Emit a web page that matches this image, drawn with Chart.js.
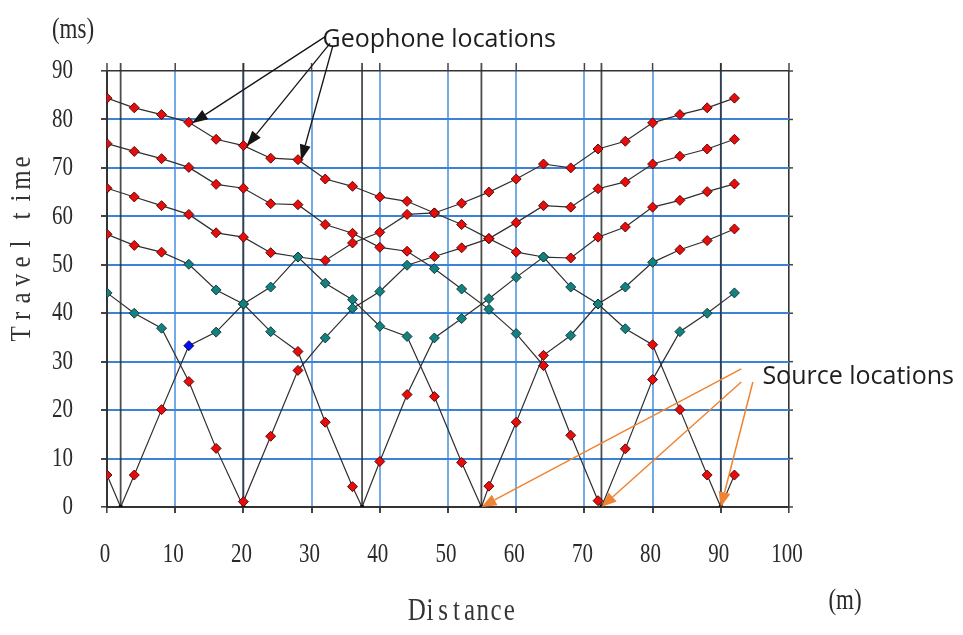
<!DOCTYPE html>
<html>
<head>
<meta charset="utf-8">
<script src="https://cdn.jsdelivr.net/npm/chart.js@4.4.0/dist/chart.umd.min.js"></script>
<style>
  html, body { margin: 0; padding: 0; background: #fff; }
  #wrap { width: 963px; height: 635px; position: relative; }
</style>
</head>
<body>
<div id="wrap"><canvas id="myChart"></canvas></div>
<script>
// geophone positions along the spread (m)
const geophoneX = [0, 4, 8, 12, 16, 20, 24, 28, 32, 36, 40, 44, 48, 52, 56, 60, 64, 68, 72, 76, 80, 84, 88, 92];
// shot positions (m)
const sourceX = [2, 20, 37.4, 54.9, 72.5, 90];

// first-break times (ms), one per geophone, for each shot
const shot1 = [6.6, 6.6, 20.1, 33.3, 36.1, 41.9, 45.4, 51.6, 50.9, 54.5, 56.7, 60.4, 60.7, 62.7, 65.0, 67.7, 70.8, 70.0, 73.9, 75.5, 79.3, 81.0, 82.4, 84.4];
const shot2 = [44.2, 40.0, 36.9, 25.9, 12.1, 1.1, 14.6, 28.2, 34.9, 41.0, 44.5, 49.9, 51.7, 53.5, 55.4, 58.7, 62.2, 61.9, 65.7, 67.1, 70.8, 72.4, 73.9, 75.9];
const shot3 = [56.3, 54.0, 52.6, 50.1, 44.8, 41.9, 36.2, 32.1, 17.5, 4.2, 9.4, 23.2, 34.9, 38.9, 43.0, 47.4, 51.6, 51.4, 55.7, 57.8, 61.9, 63.3, 65.1, 66.7];
const shot4 = [65.8, 64.0, 62.2, 60.4, 56.6, 55.7, 52.5, 51.6, 46.2, 42.8, 37.3, 35.2, 22.8, 9.2, 4.3, 17.5, 31.3, 35.4, 41.9, 45.4, 50.5, 53.1, 55.0, 57.4];
const shot5 = [75.0, 73.4, 71.9, 70.1, 66.6, 65.8, 62.6, 62.4, 58.3, 56.5, 53.6, 52.8, 49.2, 45.0, 40.8, 35.8, 29.2, 14.8, 1.3, 12.0, 26.3, 36.2, 40.0, 44.2];
const shot6 = [84.4, 82.4, 81.0, 79.4, 75.9, 74.6, 72.0, 71.7, 67.7, 66.2, 64.0, 63.1, 60.7, 58.3, 55.4, 52.6, 51.6, 45.4, 41.9, 36.8, 33.5, 20.1, 6.6, 6.6];
const shots = [shot1, shot2, shot3, shot4, shot5, shot6];

// axis ticks
const xTicks = [0, 10, 20, 30, 40, 50, 60, 70, 80, 90, 100];
const yTicks = [0, 10, 20, 30, 40, 50, 60, 70, 80, 90];

// picks in the mid-offset window are marked teal, one pick is flagged blue
const flagged = { shot: 0, x: 12 };
function pickKind(p, src, i) {
  if (p.source) return 'src';
  if (i === flagged.shot && p.x === flagged.x) return 'flag';
  const off = Math.abs(p.x - src);
  return (off > 10.3 && off < 27.5) ? 'mid' : 'near';
}
const fills = { src: '#111', flag: '#0010f0', mid: '#14807f', near: '#e80d0d' };
const edges = { src: '#111', flag: '#00004a', mid: '#0a3434', near: '#4a0000' };

const datasets = shots.map((times, i) => {
  const src = sourceX[i];
  const pts = geophoneX.map((x, j) => ({ x: x, y: times[j] }));
  pts.push({ x: src, y: 0, source: true });
  pts.sort((a, b) => (a.x - b.x) || (a.source ? -1 : 1));
  return {
    data: pts,
    showLine: true,
    borderColor: '#2e2e2e',
    borderWidth: 1.2,
    pointStyle: c => c.raw.source ? 'rect' : 'rectRot',
    pointRadius: c => c.raw.source ? 2.2 : 5,
    pointBackgroundColor: c => fills[pickKind(c.raw, src, i)],
    pointBorderColor: c => edges[pickKind(c.raw, src, i)],
    pointBorderWidth: 0.9
  };
});

function stretchText(ctx, text, x, y, align, size, sy) {
  ctx.save();
  ctx.translate(x, y);
  ctx.scale(1, sy);
  ctx.font = size + 'px "Liberation Serif"';
  ctx.textAlign = align;
  ctx.textBaseline = 'middle';
  ctx.fillText(text, 0, 0);
  ctx.restore();
}

// letters placed in fixed cells, like a monospaced serif face; spaces take a narrower cell
function cellText(ctx, text, cx, cy, cell, size, sy, rot) {
  const w = ch => ch === ' ' ? cell * 0.55 : cell;
  let total = 0;
  for (const ch of text) total += w(ch);
  ctx.save();
  ctx.translate(cx, cy);
  if (rot) ctx.rotate(rot);
  ctx.font = size + 'px "Liberation Serif"';
  ctx.textAlign = 'center';
  ctx.textBaseline = 'middle';
  let pos = -total / 2;
  for (const ch of text) {
    const cw = w(ch);
    ctx.save();
    ctx.translate(pos + cw / 2, 0);
    ctx.scale(1, sy);
    ctx.fillText(ch, 0, 0);
    ctx.restore();
    pos += cw;
  }
  ctx.restore();
}

function arrow(ctx, x1, y1, x2, y2, color, width, headLen, headW) {
  const ang = Math.atan2(y2 - y1, x2 - x1);
  const bx = x2 - Math.cos(ang) * headLen, by = y2 - Math.sin(ang) * headLen;
  ctx.save();
  ctx.strokeStyle = color;
  ctx.fillStyle = color;
  ctx.lineWidth = width;
  ctx.beginPath();
  ctx.moveTo(x1, y1);
  ctx.lineTo(bx, by);
  ctx.stroke();
  ctx.beginPath();
  ctx.moveTo(x2, y2);
  ctx.lineTo(bx + Math.sin(ang) * headW / 2, by - Math.cos(ang) * headW / 2);
  ctx.lineTo(bx - Math.sin(ang) * headW / 2, by + Math.cos(ang) * headW / 2);
  ctx.closePath();
  ctx.fill();
  ctx.restore();
}

const frame = {
  id: 'frame',
  beforeDatasetsDraw(chart) {
    const { ctx, chartArea: a, scales: { x, y } } = chart;
    ctx.save();
    ctx.strokeStyle = '#444';
    ctx.lineWidth = 1.5;
    xTicks.forEach(v => {
      const px = x.getPixelForValue(v);
      ctx.beginPath(); ctx.moveTo(px, a.top); ctx.lineTo(px, a.top - 8); ctx.stroke();
    });
    yTicks.forEach(v => {
      const py = y.getPixelForValue(v);
      ctx.beginPath(); ctx.moveTo(a.right, py); ctx.lineTo(a.right + 4, py); ctx.stroke();
    });
    // shot position markers
    ctx.strokeStyle = 'rgba(45,45,45,0.85)';
    ctx.lineWidth = 1.8;
    sourceX.forEach(s => {
      const px = x.getPixelForValue(s);
      ctx.beginPath(); ctx.moveTo(px, a.bottom); ctx.lineTo(px, a.top - 8); ctx.stroke();
    });
    ctx.restore();
  },
  afterDraw(chart) {
    const { ctx, chartArea: a, scales: { x, y } } = chart;
    ctx.save();
    ctx.fillStyle = '#2a2a2a';
    yTicks.forEach(v => stretchText(ctx, String(v), a.left - 34, y.getPixelForValue(v), 'right', 21, 1.3));
    xTicks.forEach(v => stretchText(ctx, String(v), x.getPixelForValue(v) - 2, a.bottom + 48, 'center', 21, 1.3));
    stretchText(ctx, '(ms)', a.left - 34, 30, 'center', 23, 1.3);
    stretchText(ctx, '(m)', 845, 601, 'center', 23, 1.3);
    ctx.fillStyle = '#353535';
    cellText(ctx, 'Travel time', 22, 248, 18, 25, 1.15, -Math.PI / 2);
    cellText(ctx, 'Distance', 463, 612, 13.2, 25, 1.25, 0);

    // annotations
    const px = v => x.getPixelForValue(v), py = v => y.getPixelForValue(v);
    ctx.fillStyle = '#1e1e1e';
    ctx.font = '25px "Open Sans"';
    ctx.textAlign = 'left';
    ctx.textBaseline = 'middle';
    ctx.fillText('Geophone locations', px(31.6), py(96.5));
    ctx.fillText('Source locations', px(96.1), py(26.9));

    const starts = [[32.0, 97.1], [32.7, 95.7], [33.1, 95.1]];
    [12, 20, 28].forEach((g, k) => {
      const j = geophoneX.indexOf(g);
      arrow(ctx, px(starts[k][0]), py(starts[k][1]), px(g) + 3, py(shot6[j]) + 1, '#151515', 1.3, 16, 11);
    });
    const oStarts = [[93.0, 28.5], [93.0, 25.8], [94.7, 25.8]];
    [3, 4, 5].forEach((s, k) => {
      arrow(ctx, px(oStarts[k][0]), py(oStarts[k][1]), px(sourceX[s]), py(0), '#ee8433', 1.5, 15, 12);
    });
    ctx.restore();
  }
};

new Chart(document.getElementById('myChart'), {
  type: 'scatter',
  data: { datasets: datasets },
  options: {
    responsive: true,
    maintainAspectRatio: false,
    animation: false,
    layout: { padding: { left: 101, right: 174, top: 71, bottom: 122 } },
    plugins: { legend: { display: false }, tooltip: { enabled: false } },
    scales: {
      x: {
        type: 'linear', min: 0, max: 100,
        ticks: { stepSize: 10, display: false },
        grid: {
          color: c => (c.tick.value === 0 || c.tick.value === 100) ? '#333' : 'rgba(70,142,222,0.75)',
          lineWidth: c => (c.tick.value === 0 || c.tick.value === 100) ? 1.6 : 2,
          tickLength: 6, tickColor: '#444'
        },
        border: { color: '#333', width: 2 }
      },
      y: {
        min: 0, max: 90,
        ticks: { stepSize: 10, display: false },
        grid: {
          color: c => (c.tick.value === 0 || c.tick.value === 90) ? '#333' : '#3b83d6',
          lineWidth: c => (c.tick.value === 0 || c.tick.value === 90) ? 1.6 : 2,
          tickLength: 6, tickColor: '#444'
        },
        border: { color: '#333', width: 2 }
      }
    }
  },
  plugins: [frame]
});
</script>
</body>
</html>
